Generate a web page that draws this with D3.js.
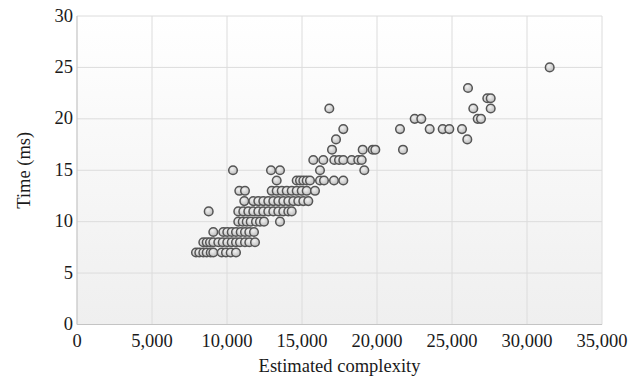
<!DOCTYPE html>
<html>
<head>
<meta charset="utf-8">
<script src="https://cdn.jsdelivr.net/npm/d3@7"></script>
<style>
  html, body { margin: 0; padding: 0; background: #fff; }
  svg { display: block; font-family: "Liberation Serif", "Times New Roman", serif; }
</style>
</head>
<body>
<svg id="chart" width="640" height="378"></svg>
<script>
// Estimated complexity (x) for each point, grouped by measured time (ms)
const time7  = [7933, 8153, 8420, 8647, 8913, 9087, 9647, 9933, 10247, 10600];
const time8  = [8420, 8647, 8867, 9087, 9420, 9713, 10020, 10313, 10600, 10867, 11200, 11487, 11867];
const time9  = [9087, 9753, 10020, 10313, 10600, 10913, 11200, 11487, 11800];
const time10 = [10753, 11047, 11313, 11580, 11933, 12200, 12467, 13533];
const time11 = [8780, 10753, 11087, 11420, 11753, 12087, 12420, 12753, 13087, 13420, 13753, 14087, 14313];
const time12 = [11153, 11753, 12087, 12420, 12753, 13087, 13420, 13753, 14087, 14420, 14753, 15087, 15420];
const time13 = [10820, 11200, 12980, 13313, 13647, 13980, 14313, 14647, 14980, 15313, 15867];
const time14 = [13313, 14647, 14867, 15087, 15313, 15533, 16200, 16467, 17133, 17753];
const time15 = [10400, 12933, 13533, 16200, 19153];
const time16 = [15753, 16420, 17153, 17467, 17753, 18313, 18753, 18980];
const time17 = [17000, 19047, 19713, 19887, 21733];
const time18 = [17267, 26020];
const time19 = [17753, 21533, 23513, 24380, 24820, 25667];
const time20 = [22513, 22953, 26713, 26933];
const time21 = [16820, 26420, 27580];
const time22 = [27353, 27580];
const time23 = [26067];
const time25 = [31513];

const rows = [
  [7, time7], [8, time8], [9, time9], [10, time10], [11, time11], [12, time12],
  [13, time13], [14, time14], [15, time15], [16, time16], [17, time17], [18, time18],
  [19, time19], [20, time20], [21, time21], [22, time22], [23, time23], [25, time25]
];
const points = rows.flatMap(([t, xs]) => xs.map(x => ({ x, t })));

const xTicks = [0, 5000, 10000, 15000, 20000, 25000, 30000, 35000];
const yTicks = [0, 5, 10, 15, 20, 25, 30];

const margin = { left: 77, right: 38, top: 16, bottom: 53.5 };
const W = 640, H = 378;
const iW = W - margin.left - margin.right;
const iH = H - margin.top - margin.bottom;
const FS = 18.5;

const svg = d3.select("#chart");
const x = d3.scaleLinear([0, 35000], [margin.left, margin.left + iW]);
const y = d3.scaleLinear([0, 30], [margin.top + iH, margin.top]);

const defs = svg.append("defs");
const bg = defs.append("linearGradient").attr("id", "bg").attr("x1", 0).attr("x2", 0).attr("y1", 0).attr("y2", 1);
bg.append("stop").attr("offset", "0%").attr("stop-color", "#ffffff");
bg.append("stop").attr("offset", "100%").attr("stop-color", "#efefef");
const dot = defs.append("radialGradient").attr("id", "dot").attr("cx", "40%").attr("cy", "35%").attr("r", "65%");
dot.append("stop").attr("offset", "0%").attr("stop-color", "#f2f2f2");
dot.append("stop").attr("offset", "100%").attr("stop-color", "#bdbdbd");

// plot background
svg.append("rect").attr("x", margin.left).attr("y", margin.top)
  .attr("width", iW).attr("height", iH).attr("fill", "url(#bg)");

// grid
svg.append("g").selectAll("line").data(xTicks.slice(1)).join("line")
  .attr("x1", d => x(d)).attr("x2", d => x(d))
  .attr("y1", margin.top).attr("y2", margin.top + iH)
  .attr("stroke", "#dcdcdc").attr("stroke-width", 1);
svg.append("g").selectAll("line").data(yTicks.slice(1)).join("line")
  .attr("x1", margin.left).attr("x2", margin.left + iW)
  .attr("y1", d => y(d)).attr("y2", d => y(d))
  .attr("stroke", "#dcdcdc").attr("stroke-width", 1);

// axis lines
svg.append("line").attr("x1", margin.left).attr("x2", margin.left)
  .attr("y1", margin.top).attr("y2", margin.top + iH)
  .attr("stroke", "#c4c4c4").attr("stroke-width", 1.2);
svg.append("line").attr("x1", margin.left).attr("x2", margin.left + iW)
  .attr("y1", margin.top + iH).attr("y2", margin.top + iH)
  .attr("stroke", "#c4c4c4").attr("stroke-width", 1.2);

// tick labels
const fmt = d3.format(",");
svg.append("g").selectAll("text").data(xTicks).join("text")
  .attr("x", d => x(d)).attr("y", margin.top + iH + 22)
  .attr("text-anchor", "middle").attr("font-size", FS).attr("fill", "#1a1a1a")
  .text(d => fmt(d));
svg.append("g").selectAll("text").data(yTicks).join("text")
  .attr("x", margin.left - 4).attr("y", d => y(d) + 5.5)
  .attr("text-anchor", "end").attr("font-size", FS).attr("fill", "#1a1a1a")
  .text(d => d);

// axis titles
svg.append("text").attr("x", margin.left + iW / 2).attr("y", 372)
  .attr("text-anchor", "middle").attr("font-size", FS).attr("fill", "#1a1a1a")
  .text("Estimated complexity");
svg.append("text")
  .attr("transform", `translate(30, ${margin.top + iH / 2}) rotate(-90)`)
  .attr("text-anchor", "middle").attr("font-size", FS).attr("fill", "#1a1a1a")
  .text("Time (ms)");

// points
svg.append("g").selectAll("circle").data(points).join("circle")
  .attr("cx", d => x(d.x)).attr("cy", d => y(d.t)).attr("r", 4.3)
  .attr("fill", "url(#dot)").attr("stroke", "#555").attr("stroke-width", 1.5);
</script>
</body>
</html>
